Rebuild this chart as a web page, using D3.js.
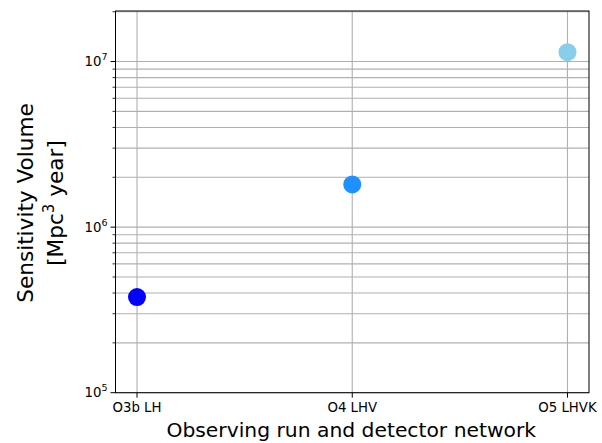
<!DOCTYPE html>
<html>
<head>
<meta charset="utf-8">
<script src="https://cdn.jsdelivr.net/npm/d3@7"></script>
<style>
  body { margin: 0; background: #fff; }
  text { font-family: "DejaVu Sans", sans-serif; }
</style>
</head>
<body>
<svg width="602" height="443"></svg>
<script>
const runs = ['O3b LH', 'O4 LHV', 'O5 LHVK'];
const volumes = [3.78e5, 1.81e6, 1.14e7];
const colors = ['#0000ff', '#1e90ff', '#87ceeb'];
const majorTicks = [1e5, 1e6, 1e7];

const svg = d3.select('svg');
const margin = { top: 11, right: 13, bottom: 50, left: 115.5 };
const width = 602, height = 443;
const innerWidth = width - margin.left - margin.right;
const innerHeight = height - margin.top - margin.bottom - 0.3;

const x = d3.scaleLinear().domain([-0.1, 2.1]).range([0, innerWidth]);
const y = d3.scaleLog().domain([1e5, 2.02e7]).range([innerHeight, 0]);

const g = svg.append('g').attr('transform', `translate(${margin.left},${margin.top})`);

// minor + major y ticks for grid
const minorTicks = [];
for (let e = 5; e <= 7; e++) {
  for (let m = 2; m <= 9; m++) {
    const v = m * Math.pow(10, e);
    if (v <= y.domain()[1]) minorTicks.push(v);
  }
}
const gridColor = '#b0b0b0';

g.selectAll('line.hgrid')
  .data(majorTicks.concat(minorTicks))
  .enter().append('line')
    .attr('x1', 0).attr('x2', innerWidth)
    .attr('y1', d => y(d)).attr('y2', d => y(d))
    .attr('stroke', gridColor).attr('stroke-width', 1.1);

g.selectAll('line.vgrid')
  .data(runs)
  .enter().append('line')
    .attr('x1', (d, i) => x(i)).attr('x2', (d, i) => x(i))
    .attr('y1', 0).attr('y2', innerHeight)
    .attr('stroke', gridColor).attr('stroke-width', 1.1);

// points
g.selectAll('circle')
  .data(volumes)
  .enter().append('circle')
    .attr('cx', (d, i) => x(i))
    .attr('cy', d => y(d))
    .attr('r', 9)
    .attr('fill', (d, i) => colors[i]);

// frame
g.append('rect')
  .attr('width', innerWidth).attr('height', innerHeight)
  .attr('fill', 'none').attr('stroke', '#000').attr('stroke-width', 1);

// y axis ticks
g.selectAll('line.ymaj')
  .data(majorTicks)
  .enter().append('line')
    .attr('x1', -5).attr('x2', 0)
    .attr('y1', d => y(d)).attr('y2', d => y(d))
    .attr('stroke', '#000');
g.selectAll('line.ymin')
  .data(minorTicks)
  .enter().append('line')
    .attr('x1', -3).attr('x2', 0)
    .attr('y1', d => y(d)).attr('y2', d => y(d))
    .attr('stroke', '#000').attr('stroke-width', 0.8);

const ylab = g.selectAll('text.ytick')
  .data(majorTicks)
  .enter().append('text')
    .attr('x', -8)
    .attr('y', d => y(d) + 4.5)
    .attr('text-anchor', 'end')
    .attr('font-size', 13.3);
ylab.append('tspan').text('10');
ylab.append('tspan').attr('dy', -6).attr('font-size', 9.5)
  .text(d => Math.round(Math.log10(d)));

// x axis ticks
g.selectAll('line.xtick')
  .data(runs)
  .enter().append('line')
    .attr('x1', (d, i) => x(i)).attr('x2', (d, i) => x(i))
    .attr('y1', innerHeight).attr('y2', innerHeight + 5)
    .attr('stroke', '#000');
g.selectAll('text.xtick')
  .data(runs)
  .enter().append('text')
    .attr('x', (d, i) => x(i))
    .attr('y', innerHeight + 19)
    .attr('text-anchor', 'middle')
    .attr('font-size', 13.3)
    .text(d => d);

// axis labels
svg.append('text')
  .attr('x', margin.left + innerWidth / 2 - 1)
  .attr('y', 437)
  .attr('text-anchor', 'middle')
  .attr('font-size', 20.3)
  .text('Observing run and detector network');

const yl = svg.append('text')
  .attr('transform', `translate(0,${203}) rotate(-90)`)
  .attr('text-anchor', 'middle')
  .attr('font-size', 21.6);
yl.append('tspan').attr('x', 0).attr('y', 33).text('Sensitivity Volume');
const l2 = yl.append('tspan').attr('x', 0).attr('y', 63);
l2.text('[Mpc');
yl.append('tspan').attr('dy', -9).attr('font-size', 15).text('3');
yl.append('tspan').attr('dy', 9).text(' year]');
</script>
</body>
</html>
